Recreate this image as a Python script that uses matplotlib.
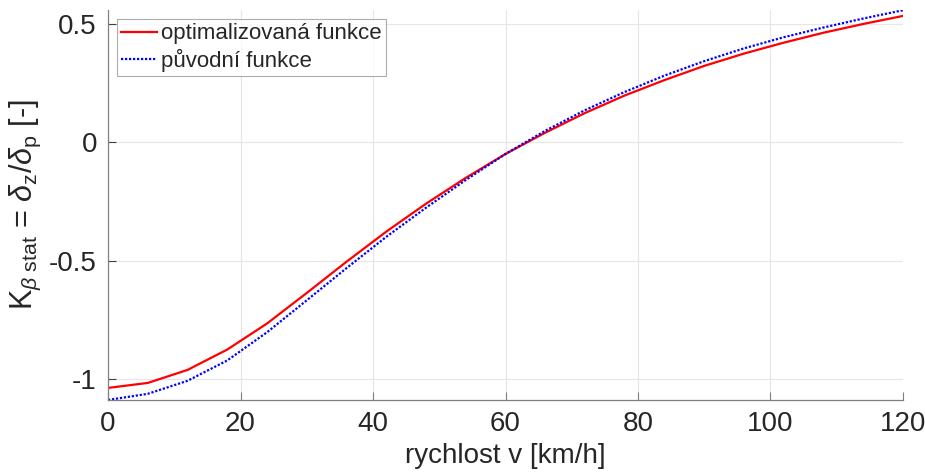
import numpy as np
from matplotlib import pyplot as plt

# rychlost [km/h]
v = [0, 6, 12, 18, 24, 30, 36, 42, 48, 54, 60, 66, 72, 78, 84, 90, 96, 102, 108, 114, 120]

# optimalizovana funkce
k_opt = [-1.038, -1.017, -0.962, -0.876, -0.766, -0.637, -0.505, -0.378, -0.260, -0.151,
         -0.050, 0.040, 0.123, 0.197, 0.262, 0.322, 0.374, 0.420, 0.462, 0.499, 0.533]

# puvodni funkce
k_orig = [-1.089, -1.063, -1.008, -0.922, -0.803, -0.668, -0.532, -0.400, -0.277, -0.160,
          -0.050, 0.048, 0.135, 0.212, 0.281, 0.342, 0.396, 0.443, 0.484, 0.522, 0.557]

xticks = [0, 20, 40, 60, 80, 100, 120]
yticks = [-1, -0.5, 0, 0.5]
yticklabels = ["-1", "-0.5", "0", "0.5"]

plt.rcParams['font.family'] = ['Liberation Sans', 'DejaVu Sans']
plt.rcParams['mathtext.fontset'] = 'custom'
plt.rcParams['mathtext.rm'] = 'Liberation Sans'
plt.rcParams['mathtext.it'] = 'Liberation Sans:italic'

txt = '#262626'
fig = plt.figure(figsize=(9.25, 4.76), dpi=100)
ax = fig.add_axes([0.1168, 0.1597, 0.8594, 0.8193])

ax.plot(v, k_opt, color='red', lw=1.6, label='optimalizovaná funkce')
ax.plot(v, k_orig, color='blue', lw=1.6, ls=(0, (1, 0.8)), label='původní funkce')

ax.set_xlim(0, 120)
ax.set_ylim(-1.089, 0.558)
ax.set_xticks(xticks)
ax.set_yticks(yticks)
ax.set_yticklabels(yticklabels)
ax.tick_params(direction='in', labelsize=20, colors=txt, length=6, width=0.8, pad=8)
ax.tick_params(axis='x', colors='#808080', labelcolor=txt)
ax.tick_params(axis='y', colors='#404040', labelcolor=txt)
ax.grid(True, color='#e6e6e6', lw=0.8)
ax.set_axisbelow(True)
for s in ['top', 'right']:
    ax.spines[s].set_visible(False)
for s in ['left', 'bottom']:
    ax.spines[s].set_color('#808080')
    ax.spines[s].set_linewidth(0.9)

ax.set_xlabel('rychlost v [km/h]', fontsize=20, color=txt, labelpad=4)
ax.set_ylabel(r'K$_{\beta\ \mathrm{stat}}$ = $\delta_{\mathrm{z}}/\delta_{\mathrm{p}}$ [-]',
              fontsize=22, color=txt, labelpad=4)

leg = ax.legend(loc='upper left', fontsize=16, frameon=True, fancybox=False,
                borderpad=0.2, handlelength=1.6, handletextpad=0.2, labelspacing=0.2,
                borderaxespad=0.4)
leg.get_frame().set_edgecolor('#999999')
leg.get_frame().set_linewidth(0.8)
for t in leg.get_texts():
    t.set_color(txt)

plt.savefig('out.png', dpi=100)
